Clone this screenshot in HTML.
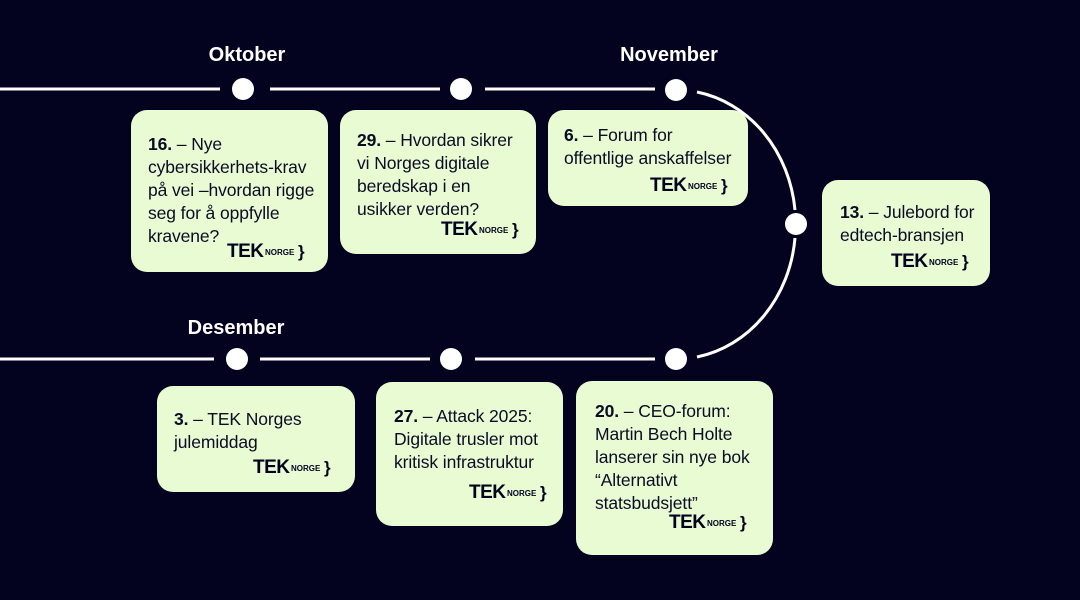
<!DOCTYPE html>
<html><head><meta charset="utf-8"><style>
*{margin:0;padding:0;box-sizing:border-box}
body{width:1080px;height:600px;background:#03021f;position:relative;overflow:hidden;font-family:"Liberation Sans",sans-serif}
.c{position:absolute;background:#e8fbd3;border-radius:16px;color:#0b0b24;font-size:17.5px;line-height:23px;padding-left:17px;letter-spacing:-0.1px;white-space:nowrap}
.c b{font-weight:bold}
.m{position:absolute;color:#fff;font-size:20px;font-weight:bold;transform:translateX(-50%)}
.lg{position:absolute;height:18px;color:#03021f;white-space:nowrap;display:flex;align-items:center}
.lg .t{font-weight:900;font-size:19px;letter-spacing:-0.5px;width:38px}
.lg .n{font-weight:bold;font-size:8px;width:33px}
.lg .b{font-weight:900;font-size:17px}
</style></head><body>
<svg width="1080" height="600" style="position:absolute;left:0;top:0">
<g stroke="#fff" stroke-width="3" fill="none">
<line x1="0" y1="89" x2="220" y2="89"/><line x1="270" y1="89" x2="440" y2="89"/><line x1="485" y1="89" x2="655" y2="89"/>
<line x1="0" y1="359" x2="214" y2="359"/><line x1="260" y1="359" x2="430" y2="359"/><line x1="475" y1="359" x2="655" y2="359"/>
<path d="M697 92 A120 134 0 0 1 795 210"/><path d="M795 238 A120 134 0 0 1 697 357"/>
</g>
<g fill="#fff">
<circle cx="243" cy="89" r="11"/><circle cx="461" cy="89" r="11"/><circle cx="676" cy="90" r="11"/>
<circle cx="796" cy="224" r="11"/><circle cx="676" cy="359" r="11"/><circle cx="451" cy="359" r="11"/><circle cx="237" cy="359" r="11"/>
</g></svg>
<div class="m" style="left:247px;top:44px">Oktober</div>
<div class="m" style="left:669px;top:44px">November</div>
<div class="m" style="left:236px;top:317px">Desember</div>

<div class="c" style="left:131px;top:110px;width:197px;height:162px;padding-top:23px"><b>16.</b> – Nye<br>cybersikkerhets-krav<br>på vei –hvordan rigge<br>seg for å oppfylle<br>kravene?</div>
<div class="c" style="left:340px;top:110px;width:196px;height:144px;padding-top:19px"><b>29.</b> – Hvordan sikrer<br>vi Norges digitale<br>beredskap i en<br>usikker verden?</div>
<div class="c" style="left:548px;top:110px;width:200px;height:96px;padding-top:14px;padding-left:16px"><b>6.</b> – Forum for<br>offentlige anskaffelser</div>
<div class="c" style="left:822px;top:180px;width:168px;height:106px;padding-top:21px;padding-left:18px"><b>13.</b> – Julebord for<br>edtech-bransjen</div>
<div class="c" style="left:157px;top:386px;width:198px;height:106px;padding-top:22px"><b>3.</b> – TEK Norges<br>julemiddag</div>
<div class="c" style="left:376px;top:382px;width:187px;height:144px;padding-top:23px;padding-left:18px"><b>27.</b> – Attack 2025:<br>Digitale trusler mot<br>kritisk infrastruktur</div>
<div class="c" style="left:576px;top:381px;width:197px;height:174px;padding-top:19px;padding-left:19px"><b>20.</b> – CEO-forum:<br>Martin Bech Holte<br>lanserer sin nye bok<br>“Alternativt<br>statsbudsjett”</div>

<div class="lg" style="left:227px;top:243px"><span class="t">TEK</span><span class="n">NORGE</span><span class="b">}</span></div>
<div class="lg" style="left:441px;top:221px"><span class="t">TEK</span><span class="n">NORGE</span><span class="b">}</span></div>
<div class="lg" style="left:650px;top:177px"><span class="t">TEK</span><span class="n">NORGE</span><span class="b">}</span></div>
<div class="lg" style="left:891px;top:253px"><span class="t">TEK</span><span class="n">NORGE</span><span class="b">}</span></div>
<div class="lg" style="left:253px;top:459px"><span class="t">TEK</span><span class="n">NORGE</span><span class="b">}</span></div>
<div class="lg" style="left:469px;top:484px"><span class="t">TEK</span><span class="n">NORGE</span><span class="b">}</span></div>
<div class="lg" style="left:669px;top:514px"><span class="t">TEK</span><span class="n">NORGE</span><span class="b">}</span></div>
</body></html>
